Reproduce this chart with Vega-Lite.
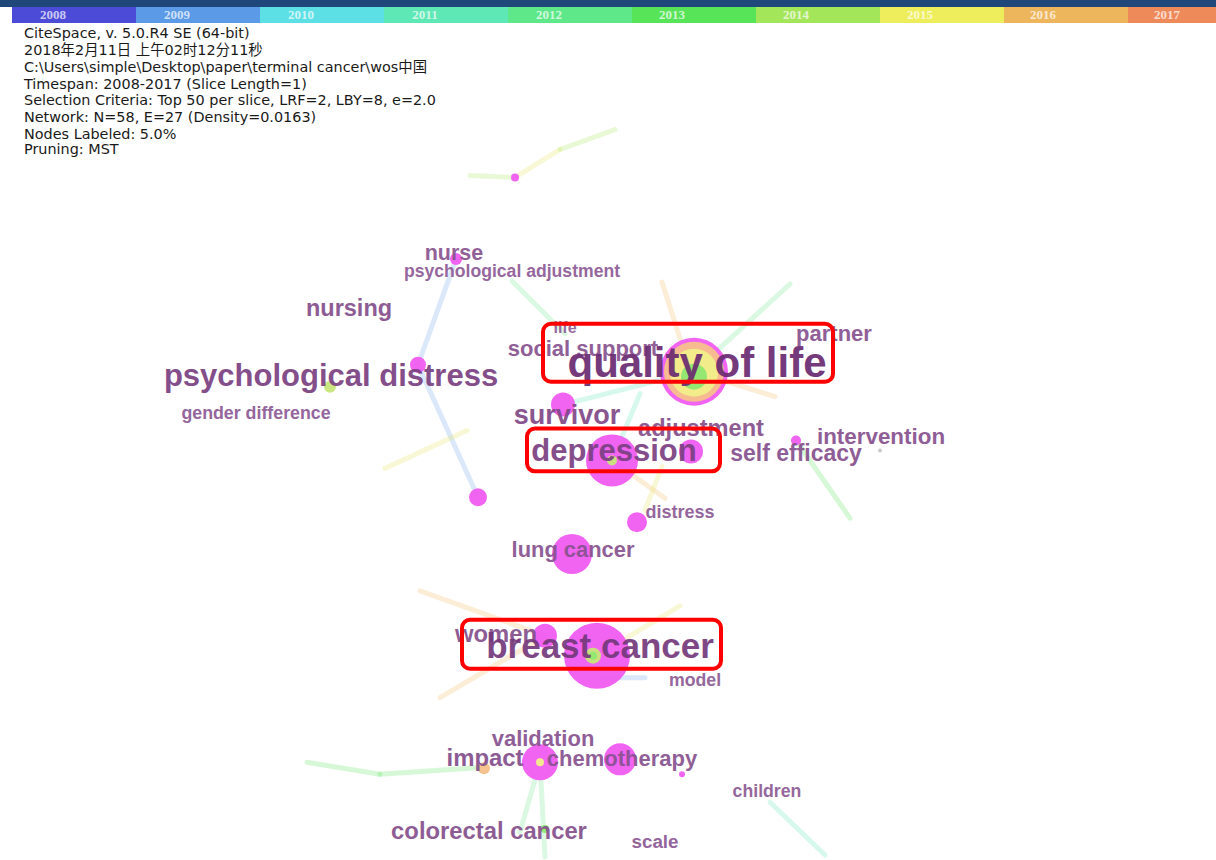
{
  "$schema": "https://vega.github.io/schema/vega-lite/v6.json",
  "width": 1216,
  "height": 860,
  "autosize": {"type": "fit", "contains": "padding"},
  "padding": 0,
  "background": "white",
  "config": {"view": {"stroke": null}},
  "datasets": {
    "band": [{"x": 0, "x2": 1216, "y": 0, "y2": 7}],
    "years": [
      {"year": "2008", "x": 12, "x2": 136, "lx": 53},
      {"year": "2009", "x": 136, "x2": 260, "lx": 177},
      {"year": "2010", "x": 260, "x2": 384, "lx": 301},
      {"year": "2011", "x": 384, "x2": 508, "lx": 425},
      {"year": "2012", "x": 508, "x2": 632, "lx": 549},
      {"year": "2013", "x": 632, "x2": 756, "lx": 672},
      {"year": "2014", "x": 756, "x2": 880, "lx": 796},
      {"year": "2015", "x": 880, "x2": 1004, "lx": 920},
      {"year": "2016", "x": 1004, "x2": 1128, "lx": 1043},
      {"year": "2017", "x": 1128, "x2": 1216, "lx": 1167}
    ],
    "header": [
      {"line": "CiteSpace, v. 5.0.R4 SE (64-bit)", "x": 24, "y": 34},
      {"line": "2018年2月11日 上午02时12分11秒", "x": 24, "y": 51},
      {"line": "C:\\Users\\simple\\Desktop\\paper\\terminal cancer\\wos中国", "x": 24, "y": 68},
      {"line": "Timespan: 2008-2017 (Slice Length=1)", "x": 24, "y": 85},
      {"line": "Selection Criteria: Top 50 per slice, LRF=2, LBY=8, e=2.0", "x": 24, "y": 101},
      {"line": "Network: N=58, E=27 (Density=0.0163)", "x": 24, "y": 118},
      {"line": "Nodes Labeled: 5.0%", "x": 24, "y": 135},
      {"line": "Pruning: MST", "x": 24, "y": 151}
    ],
    "edges": [
      {"x": 470, "y": 176, "x2": 515, "y2": 178, "year": "2014"},
      {"x": 515, "y": 178, "x2": 560, "y2": 150, "year": "2015"},
      {"x": 560, "y": 150, "x2": 615, "y2": 130, "year": "2014"},
      {"x": 456, "y": 260, "x2": 418, "y2": 366, "year": "2009"},
      {"x": 418, "y": 366, "x2": 478, "y2": 499, "year": "2009"},
      {"x": 512, "y": 282, "x2": 565, "y2": 335, "year": "2012"},
      {"x": 694, "y": 373, "x2": 790, "y2": 285, "year": "2012"},
      {"x": 662, "y": 283, "x2": 680, "y2": 340, "year": "2016"},
      {"x": 694, "y": 373, "x2": 775, "y2": 398, "year": "2016"},
      {"x": 563, "y": 406, "x2": 694, "y2": 373, "year": "2011"},
      {"x": 612, "y": 462, "x2": 640, "y2": 395, "year": "2011"},
      {"x": 796, "y": 442, "x2": 850, "y2": 520, "year": "2013"},
      {"x": 612, "y": 462, "x2": 665, "y2": 500, "year": "2016"},
      {"x": 662, "y": 468, "x2": 645, "y2": 512, "year": "2015"},
      {"x": 385, "y": 470, "x2": 467, "y2": 432, "year": "2015"},
      {"x": 420, "y": 593, "x2": 545, "y2": 638, "year": "2016"},
      {"x": 440, "y": 700, "x2": 545, "y2": 638, "year": "2016"},
      {"x": 597, "y": 658, "x2": 680, "y2": 608, "year": "2015"},
      {"x": 600, "y": 680, "x2": 645, "y2": 680, "year": "2009"},
      {"x": 307, "y": 765, "x2": 380, "y2": 777, "year": "2013"},
      {"x": 380, "y": 777, "x2": 484, "y2": 770, "year": "2013"},
      {"x": 540, "y": 765, "x2": 520, "y2": 835, "year": "2012"},
      {"x": 540, "y": 765, "x2": 545, "y2": 860, "year": "2012"},
      {"x": 770, "y": 805, "x2": 825, "y2": 858, "year": "2011"}
    ],
    "nodes": [
      {"x": 515, "y": 178, "r": 4, "ring": "centrality"},
      {"x": 456, "y": 260, "r": 6, "ring": "centrality"},
      {"x": 418, "y": 366, "r": 8, "ring": "centrality"},
      {"x": 330, "y": 388, "r": 6, "ring": "2014"},
      {"x": 478, "y": 499, "r": 9, "ring": "centrality"},
      {"x": 563, "y": 406, "r": 12, "ring": "centrality"},
      {"x": 694, "y": 373, "r": 34, "ring": "centrality"},
      {"x": 694, "y": 373, "r": 30, "ring": "2016"},
      {"x": 694, "y": 374, "r": 24, "ring": "2015"},
      {"x": 694, "y": 378, "r": 13, "ring": "2013"},
      {"x": 612, "y": 462, "r": 26, "ring": "centrality"},
      {"x": 612, "y": 462, "r": 5, "ring": "2014"},
      {"x": 691, "y": 453, "r": 12, "ring": "centrality"},
      {"x": 796, "y": 442, "r": 5, "ring": "centrality"},
      {"x": 880, "y": 452, "r": 2, "ring": "2010"},
      {"x": 637, "y": 524, "r": 10, "ring": "centrality"},
      {"x": 572, "y": 556, "r": 20, "ring": "centrality"},
      {"x": 545, "y": 638, "r": 12, "ring": "centrality"},
      {"x": 597, "y": 658, "r": 33, "ring": "centrality"},
      {"x": 593, "y": 658, "r": 8, "ring": "2014"},
      {"x": 593, "y": 658, "r": 4, "ring": "2013"},
      {"x": 484, "y": 771, "r": 6, "ring": "2016"},
      {"x": 540, "y": 765, "r": 18, "ring": "centrality"},
      {"x": 540, "y": 765, "r": 4, "ring": "2015"},
      {"x": 620, "y": 762, "r": 16, "ring": "centrality"},
      {"x": 682, "y": 777, "r": 3, "ring": "centrality"},
      {"x": 545, "y": 832, "r": 4, "ring": "2013"}
    ],
    "labels": [
      {"term": "nurse", "x": 454, "y": 252, "freq": 21.5},
      {"term": "psychological adjustment", "x": 512, "y": 270, "freq": 17.6},
      {"term": "nursing", "x": 349, "y": 307, "freq": 23.5},
      {"term": "life", "x": 565, "y": 326, "freq": 16},
      {"term": "partner", "x": 834, "y": 332, "freq": 22},
      {"term": "social support", "x": 583, "y": 347, "freq": 22},
      {"term": "quality of life", "x": 697, "y": 362, "freq": 42},
      {"term": "psychological distress", "x": 331, "y": 375, "freq": 31},
      {"term": "gender difference", "x": 256, "y": 412, "freq": 17.8},
      {"term": "survivor", "x": 567, "y": 414, "freq": 27},
      {"term": "adjustment", "x": 701, "y": 427, "freq": 23.6},
      {"term": "intervention", "x": 881, "y": 436, "freq": 22.4},
      {"term": "depression", "x": 614, "y": 451, "freq": 31},
      {"term": "self efficacy", "x": 796, "y": 453, "freq": 23},
      {"term": "distress", "x": 680, "y": 512, "freq": 18},
      {"term": "lung cancer", "x": 573, "y": 549, "freq": 21.9},
      {"term": "women", "x": 496, "y": 634, "freq": 23.8},
      {"term": "breast cancer", "x": 600, "y": 646, "freq": 35},
      {"term": "model", "x": 695, "y": 680, "freq": 17.7},
      {"term": "validation", "x": 543, "y": 739, "freq": 22},
      {"term": "impact", "x": 485, "y": 759, "freq": 23.9},
      {"term": "chemotherapy", "x": 622, "y": 759, "freq": 22},
      {"term": "children", "x": 767, "y": 792, "freq": 17.7},
      {"term": "colorectal cancer", "x": 489, "y": 832, "freq": 23.8},
      {"term": "scale", "x": 655, "y": 842, "freq": 18.8}
    ],
    "boxes": [
      {"term": "quality of life", "x": 543, "x2": 833, "y": 325, "y2": 383},
      {"term": "depression", "x": 527, "x2": 720, "y": 430, "y2": 473},
      {"term": "breast cancer", "x": 462, "x2": 721, "y": 622, "y2": 671}
    ]
  },
  "resolve": {"scale": {"color": "independent", "size": "independent"}},
  "layer": [
    {
      "data": {"name": "edges"},
      "mark": {"type": "rule", "strokeWidth": 5, "opacity": 0.25, "strokeCap": "round"},
      "encoding": {
        "x": {"field": "x", "type": "quantitative", "scale": {"domain": [0, 1216], "nice": false, "zero": false}, "axis": null},
        "y": {"field": "y", "type": "quantitative", "scale": {"domain": [0, 860], "nice": false, "zero": false, "reverse": true}, "axis": null},
        "x2": {"field": "x2"},
        "y2": {"field": "y2"},
        "color": {"field": "year", "type": "nominal", "legend": null,
          "scale": {"domain": ["2008","2009","2010","2011","2012","2013","2014","2015","2016","2017"],
                    "range": ["#4b4bd8","#6aa2ea","#5ee0e6","#5ee8b6","#6ee88a","#5ae45a","#a8e65a","#e8e45c","#eeb65c","#ee8a5a"]}}
      }
    },
    {
      "data": {"name": "band"},
      "mark": {"type": "rect", "color": "#1f4779"},
      "encoding": {
        "x": {"field": "x", "type": "quantitative"},
        "x2": {"field": "x2"},
        "y": {"field": "y", "type": "quantitative"},
        "y2": {"field": "y2"}
      }
    },
    {
      "data": {"name": "years"},
      "mark": {"type": "rect"},
      "encoding": {
        "x": {"field": "x", "type": "quantitative"},
        "x2": {"field": "x2"},
        "y": {"datum": 7, "type": "quantitative"},
        "y2": {"datum": 23},
        "color": {"field": "year", "type": "nominal", "legend": null,
          "scale": {"domain": ["2008","2009","2010","2011","2012","2013","2014","2015","2016","2017"],
                    "range": ["#4b4bd8","#5a9ae6","#5ce0e6","#5ee8b6","#5ee88a","#58e458","#a4e65a","#eeee5c","#eeb65c","#ee8a5a"]}}
      }
    },
    {
      "data": {"name": "years"},
      "mark": {"type": "text", "font": "Liberation Serif", "fontWeight": "bold", "fontSize": 13, "color": "white", "opacity": 0.7, "baseline": "middle", "align": "center"},
      "encoding": {
        "x": {"field": "lx", "type": "quantitative"},
        "y": {"datum": 15, "type": "quantitative"},
        "text": {"field": "year"}
      }
    },
    {
      "data": {"name": "header"},
      "mark": {"type": "text", "font": "DejaVu Sans, Noto Sans CJK SC", "fontSize": 14.4, "color": "#1a1a1a", "baseline": "middle", "align": "left"},
      "encoding": {
        "x": {"field": "x", "type": "quantitative"},
        "y": {"field": "y", "type": "quantitative"},
        "text": {"field": "line"}
      }
    },
    {
      "data": {"name": "nodes"},
      "mark": {"type": "circle", "opacity": 0.95},
      "encoding": {
        "x": {"field": "x", "type": "quantitative"},
        "y": {"field": "y", "type": "quantitative"},
        "size": {"field": "r", "type": "quantitative", "legend": null, "scale": {"type": "pow", "exponent": 2, "domain": [0, 40], "range": [0, 6400]}},
        "color": {"field": "ring", "type": "nominal", "legend": null,
          "scale": {"domain": ["centrality","2010","2013","2014","2015","2016"],
                    "range": ["#f05cf0","#c8c8c8","#8ee870","#c8e67a","#f2ee8a","#f5c08a"]}}
      }
    },
    {
      "data": {"name": "labels"},
      "mark": {"type": "text", "font": "Liberation Sans", "fontWeight": "bold", "baseline": "middle", "align": "center", "opacity": 0.92, "dy": 3},
      "encoding": {
        "x": {"field": "x", "type": "quantitative"},
        "y": {"field": "y", "type": "quantitative"},
        "text": {"field": "term"},
        "size": {"field": "freq", "type": "quantitative", "legend": null, "scale": {"domain": [0, 40], "range": [0, 40]}},
        "color": {"field": "freq", "type": "quantitative", "legend": null, "scale": {"domain": [16, 42], "range": ["#905e98", "#6a2a70"]}}
      }
    },
    {
      "data": {"name": "boxes"},
      "mark": {"type": "rect", "fill": null, "filled": false, "stroke": "#ff0000", "strokeWidth": 4, "cornerRadius": 8},
      "encoding": {
        "x": {"field": "x", "type": "quantitative"},
        "x2": {"field": "x2"},
        "y": {"field": "y", "type": "quantitative"},
        "y2": {"field": "y2"}
      }
    }
  ]
}
